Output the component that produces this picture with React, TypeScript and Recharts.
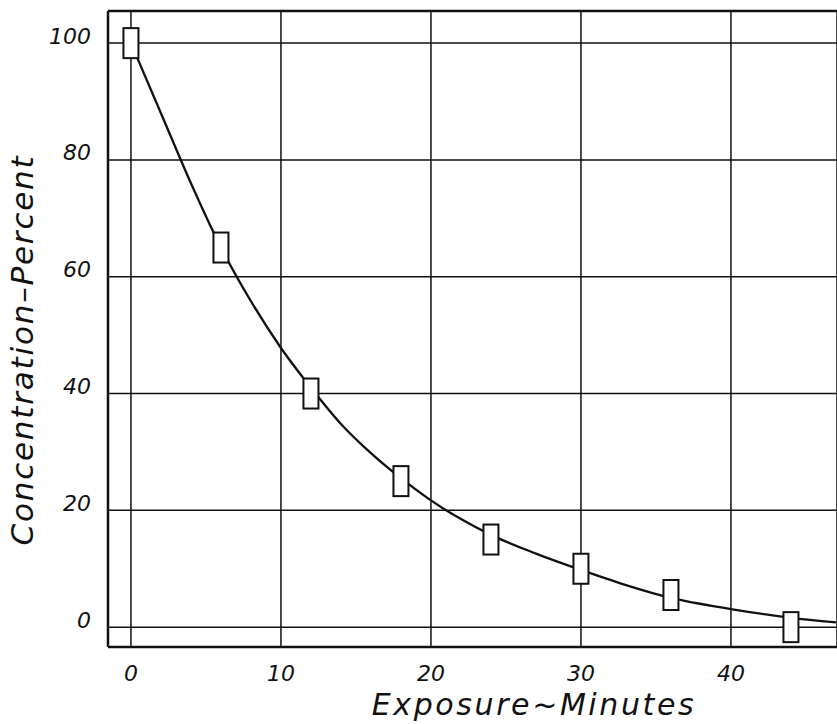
import React from 'react';
import {
  CartesianGrid,
  ComposedChart,
  Label,
  Line,
  ReferenceLine,
  Scatter,
  XAxis,
  YAxis,
} from 'recharts';

// smooth decay curve
const curveMinutes = [0, 2, 4, 6, 8, 10, 12, 14, 16, 18, 20, 22, 24, 27, 30, 33, 36, 40, 44, 47];
const curvePercent = [100, 88, 76, 65, 55.8, 47.8, 41, 34.8, 29.8, 25.5, 21.7, 18.5, 15.8, 12.6, 9.8, 7.2, 5.0, 3.1, 1.6, 0.8];

// measured points (drawn as open boxes)
const pointMinutes = [0, 6, 12, 18, 24, 30, 36, 44];
const pointPercent = [100, 65, 40, 25, 15, 10, 5.5, 0];

const xTicks = [0, 10, 20, 30, 40];
const yTicks = [0, 20, 40, 60, 80, 100];

const X_DOMAIN: [number, number] = [-1.53, 47.07];
const Y_DOMAIN: [number, number] = [-3.4, 105.5];

const INK = '#111';
const FONT = '"DejaVu Sans", "Liberation Sans", sans-serif';

const curveData = curveMinutes.map((x, i) => ({ x, v: curvePercent[i] }));
const pointData = pointMinutes.map((x, i) => ({ x, v: pointPercent[i] }));

function XTick({ x, y, payload }: any) {
  return (
    <text
      x={x}
      y={y + 26}
      textAnchor="middle"
      dominantBaseline="central"
      fontFamily={FONT}
      fontStyle="italic"
      fontSize={22}
      fill={INK}
    >
      {payload.value}
    </text>
  );
}

function YTick({ x, y, payload }: any) {
  return (
    <text
      x={x - 17}
      y={y - 7}
      textAnchor="end"
      dominantBaseline="central"
      fontFamily={FONT}
      fontStyle="italic"
      fontSize={22}
      fill={INK}
    >
      {payload.value}
    </text>
  );
}

function BoxMarker({ cx, cy }: any) {
  if (cx == null || cy == null) return null;
  return <rect x={cx - 7.5} y={cy - 15} width={15} height={30} fill="#fff" stroke={INK} strokeWidth={2} />;
}

export default function App() {
  return (
    <div style={{ position: 'absolute', left: 0, top: 0, width: 837, height: 724, background: '#fff' }}>
      <ComposedChart
        width={837}
        height={724}
        data={curveData}
        margin={{ top: 11, right: 0, bottom: 0, left: 0 }}
      >
        <CartesianGrid stroke={INK} strokeWidth={1.5} />
        <XAxis
          dataKey="x"
          type="number"
          domain={X_DOMAIN}
          allowDataOverflow
          ticks={xTicks}
          tickLine={false}
          tickSize={0}
          tickMargin={0}
          height={77}
          axisLine={{ stroke: INK, strokeWidth: 2.5 }}
          tick={<XTick />}
        >
          <Label
            content={() => (
              <text
                x={534}
                y={715}
                textAnchor="middle"
                fontFamily={FONT}
                fontStyle="italic"
                fontSize={30}
                letterSpacing={2.6}
                fill={INK}
              >
                Exposure~Minutes
              </text>
            )}
          />
        </XAxis>
        <YAxis
          type="number"
          domain={Y_DOMAIN}
          allowDataOverflow
          ticks={yTicks}
          tickLine={false}
          tickSize={0}
          tickMargin={0}
          width={108}
          axisLine={{ stroke: INK, strokeWidth: 2.5 }}
          tick={<YTick />}
        >
          <Label
            content={() => (
              <text
                x={33}
                y={350}
                transform="rotate(-90, 33, 350)"
                textAnchor="middle"
                fontFamily={FONT}
                fontStyle="italic"
                fontSize={31}
                letterSpacing={1.8}
                fill={INK}
              >
                Concentration–Percent
              </text>
            )}
          />
        </YAxis>
        <ReferenceLine y={Y_DOMAIN[1]} stroke={INK} strokeWidth={2.5} />
        <Line
          type="monotone"
          dataKey="v"
          stroke={INK}
          strokeWidth={2.3}
          dot={false}
          isAnimationActive={false}
        />
        <Scatter data={pointData} dataKey="v" shape={<BoxMarker />} isAnimationActive={false} />
      </ComposedChart>
    </div>
  );
}
